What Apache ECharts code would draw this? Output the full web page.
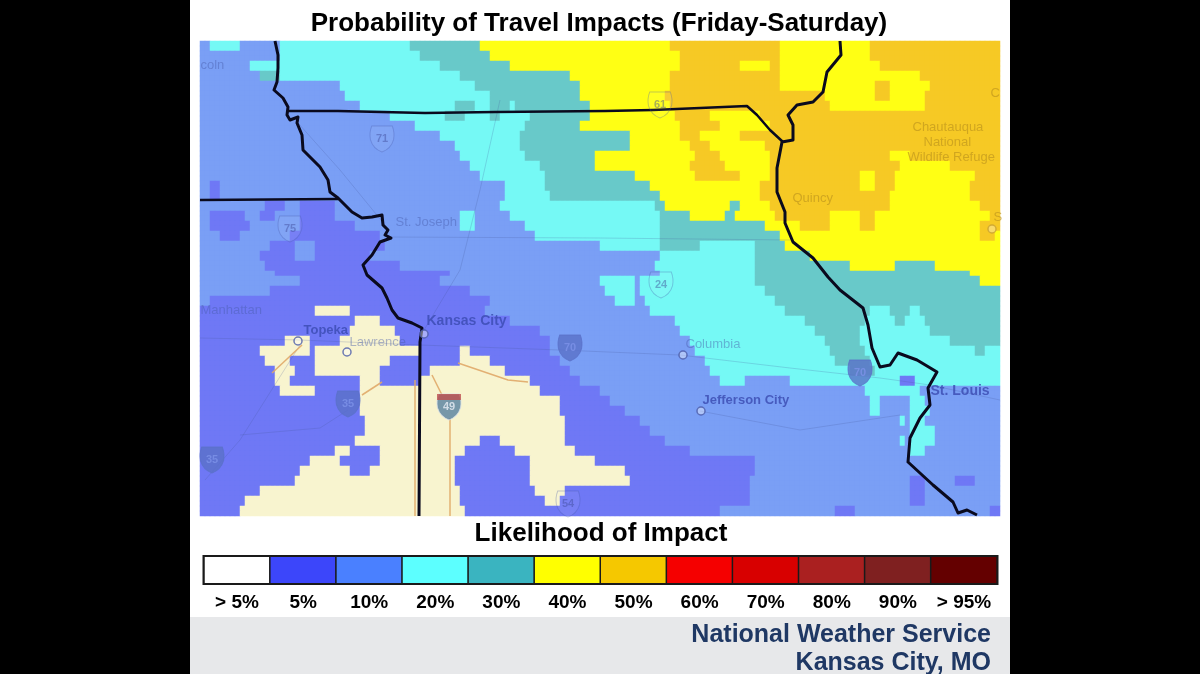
<!DOCTYPE html>
<html>
<head>
<meta charset="utf-8">
<script src="https://cdn.jsdelivr.net/npm/echarts@6/dist/echarts.min.js"></script>
<style>html,body{margin:0;background:#000}#main{width:1200px;height:674px}</style>
</head>
<body>
<div id="main"></div>
<script>
/* legend */
var legendLabels = ['> 5%','5%','10%','20%','30%','40%','50%','60%','70%','80%','90%','> 95%'];
var legendColors = ['#ffffff','#3c46fa','#4a80ff','#5cffff','#3ab4c0','#ffff00','#f5c800','#f50000','#d80000','#aa2020','#7f2020','#640000'];

/* probability class of each map row: letter + column where the run ends */
var classCodes = ['W','B','L','C','T','Y','O'];
var classColors = ['#f8f4cf','#6f78f5','#7a9ff5','#75f9f5','#68c9c9','#ffff14','#f6c925'];
var mapRows = [
'L1 C4 L8 C21 T28 Y47 O58 Y67 O80',
'L8 C22 T29 Y48 O58 Y67 O80',
'L4 L5 C24 T31 Y48 O54 Y57 O58 Y68 O80',
'L6 T8 C26 T37 Y47 O58 Y72 O80',
'L14 C27.5 T38 Y47 O58 Y67.5 O69 Y73 O80',
'L14.5 C29 T38 Y46.5 O62.5 Y67.5 O69 Y72.5 O80',
'L16 C25.5 T27.5 C29 T31 C31.5 T39 Y47 O63 Y72.5 O80',
'L19 C24.5 T26.5 C29 T30 C33 T39 Y47.5 O51 Y56 O80',
'L21.5 C32.5 T38 Y48 O52 Y57 O80',
'L24 C32 T43 Y48 O50 Y54 O80',
'L25.5 C32 T43 Y49 O51 Y56.5 O80',
'L26 C32.5 T39.5 Y49.5 O52 Y57 O69 Y71 O80',
'L27 C34 T39.5 Y49 O52.5 Y57 O70 Y75 O80',
'L28 C34.5 T43.5 Y49.5 O54 Y57 O66 Y67.5 O69.5 Y77.5 O80',
'L1 B2 L30.5 C34.5 T45 Y56 O66 Y67.5 O69.5 Y77 O80',
'L1 B2 L30.5 C35 T46 Y56 O69 Y77 O80',
'L6.5 B8.5 L10 B13.5 L30 C45.5 T46.5 Y53 T54 Y57 O69 Y78 O80',
'L1 B4.5 L6 B7.5 L10 B13.5 L26 C27.5 L31 C46 T49 Y52.5 T53.5 Y57.5 O63 Y66 O67.5 Y79 O80',
'L1 B5 L10 B15.5 L26 C27.5 L32.5 C46 T56.5 Y60 O63 Y66 O67.5 Y78 O80',
'L2 B4 L9 B18 L33.5 C46 T58 Y78 O79.5 Y80',
'L7 B9.5 L11.5 B18.5 L40 C46 T50 C55.5 T58.5 Y80',
'L6 B9.5 L11.5 B17 L46 C55.5 T61 Y80',
'L6.5 B20 L45.5 C55.5 T65 Y69.5 T73.5 Y80',
'L7.5 B25 L46 C55.5 T77 Y80',
'L10 B24 L40 C43.5 L44 C55.5 T78 Y80',
'L7 B27 L40.5 C43.5 L44 C56.5 T80',
'L1 B29 L41.5 C43.5 L44.5 C57.5 T80',
'B11.5 W15 B28.5 L45 C58.5 T67 C69 T71 C72 T80',
'B15.5 W18 B31 L47.5 C60.5 T66.5 C69.5 T70.5 C72.5 T80',
'B15 W19.5 B34 L48 C61.5 T66 C73 T80',
'B8.5 W11 B14 W20 B35 L49 C62.5 T66 C75 T80',
'B6 W11 B11.5 W22 B26 W27 B35 L49.5 C63 T66.5 C77.5 T78.5 C80',
'B6.5 W9 B11.5 W19 B26 W29 B36 L50.5 C63.5 T67 C80',
'B7.5 W9.5 B11.5 W18 B23 W30.5 B37 L51 C65 T67.5 C80',
'B7.5 W9 B11.5 B16 W18 B22 W33 B38 L52 C54.5 L59 C70 B71.5 C80',
'B8 W11.5 B16 W34 B40 L66.5 C72 L80',
'B16 W36 B41 L67 C68 L71 C72.5 L80',
'B16 W36 B42.5 L67 C68 L71 C73 L80',
'B16.5 W36.5 B44 L70 C70.5 L71 C72.5 L80',
'B16.5 W36.5 B45 L71 C73.5 L80',
'B15.5 W28 B30 W36.5 B46.5 L70 C70.5 L71 C73.5 L80',
'B13.5 W15 B18 W26.5 B31.5 W37.5 B49 L71 C72.5 L80',
'B11 W14 B18 W25.5 B33 W39.5 B55.5 L80',
'B10 W15 B17 W25.5 B33 W42.5 B55.5 L80',
'B9.5 W25.5 B33 W43 B55 L71 B72.5 L75.5 B77.5 L80',
'B6 W26 B33.5 W36.5 B55 L71 B72.5 L80',
'B4.5 W26 B34.5 W36 B55 L71 B72.5 L80',
'B4 W26.5 B52 L63.5 B65.5 L79 B80'
];

/* state lines and rivers, in picture pixels */
var missouriRiver = [[275,41],[278,55],[278,68],[277,82],[274,90],[283,98],[288,107],[287,115],[290,120],[298,117],[297,123],[302,135],[303,150],[310,157],[320,167],[328,180],[330,192],[338,198],[352,212],[362,218],[372,217],[382,215],[383,225],[388,230],[385,235],[391,238],[380,242],[372,255],[363,265],[367,275],[382,288],[387,298],[392,310],[398,318],[412,323],[422,328],[420,342],[419,516]];
var iowaLine = [[287,111],[338,111],[425,113],[495,112],[605,111],[653,110],[747,106],[757,115],[770,130],[783,142]];
var nebraskaLine = [[200,200],[338,199]];
var mississippiRiver = [[840,41],[841,55],[827,72],[823,92],[813,102],[797,105],[788,115],[793,125],[793,140],[782,142],[777,168],[777,192],[785,212],[785,223],[793,242],[813,258],[828,277],[840,290],[863,308],[868,325],[872,348],[880,367],[890,365],[898,353],[917,360],[937,372],[928,388],[930,405],[920,418],[910,438],[908,462],[933,485],[953,502],[958,513],[967,510],[977,515]];

/* faint roads */
var blueRoads = [
[[200,338],[300,340],[420,345],[560,350],[680,355],[790,368],[880,378],[930,385]],
[[388,237],[600,238],[790,240]],
[[298,123],[340,170],[385,225]],
[[500,100],[480,190],[460,270],[424,330]],
[[205,480],[240,440],[300,345]],
[[240,435],[320,428],[348,410]],
[[700,411],[800,430],[900,415]],
[[930,385],[1000,400]]
];
var orangeRoads = [
[[458,363],[508,380],[528,382]],
[[272,373],[302,345]],
[[362,395],[382,382]],
[[432,375],[442,395]],
[[450,418],[450,516]],
[[415,380],[415,516]]
];

/* place names: x, y, text */
var bigCities = [[426,321,'Kansas City'],[930,391,'St. Louis']];
var midCities = [[303,330,'Topeka'],[702,400,'Jefferson City']];
var paleCities = [[349,342,'Lawrence'],[685,344,'Columbia'],[395,222,'St. Joseph'],[200,65,'coln'],[200,310,'Manhattan']];
var orangeNames = [[792,198,'Quincy'],[912,127,'Chautauqua'],[923,142,'National'],[907,157,'Wildlife Refuge'],[993,217,'S'],[990,93,'C']];
var cityDots = [[298,341],[347,352],[424,334],[683,355],[701,411]];
var orangeDots = [[992,229]];
var routeShields = [[382,139,'71'],[290,229,'75'],[661,285,'24'],[568,504,'54'],[660,105,'61']];
var interstates = [[570,348,'70'],[348,404,'35'],[212,460,'35'],[860,373,'70']];
var tealInterstates = [[449,407,'49']];
var shieldTops = [[449,397]];

/* the picture's rows are 9.9px high, cells are 5x5 so they stay on whole pixels */
var CELL_ROWS = 95, CELL_COLS = 160;
var cellX = [], cellY = [], cellData = [];
for (var i = 0; i < CELL_COLS; i++) cellX.push(i);
for (var i = 0; i < CELL_ROWS; i++) cellY.push(i);
var decoded = mapRows.map(function (row) {
	var cells = [], from = 0;
	row.split(' ').forEach(function (run) {
		var code = classCodes.indexOf(run[0]), to = Math.round(+run.slice(1) * 2);
		for (var c = from; c < to; c++) cells[c] = code;
		from = Math.max(from, to);
	});
	return cells;
});
cellY.forEach(function (k) {
	var src = decoded[Math.min(47, Math.floor((k + 0.5) * 48 / CELL_ROWS))];
	cellX.forEach(function (c) { cellData.push([c, k, src[c]]); });
});
var legendData = legendLabels.map(function (l, i) { return [i, 0, i]; });

function lineSeries(pts, color, width, opacity) {
	return {
		type: 'line', xAxisIndex: 1, yAxisIndex: 1, data: pts, showSymbol: false, silent: true,
		lineStyle: { color: color, width: width, opacity: opacity, join: 'round' }, z: 5
	};
}
function nameSeries(pts, color, size, weight) {
	return {
		type: 'scatter', xAxisIndex: 1, yAxisIndex: 1, data: pts, symbolSize: 1, z: 7,
		itemStyle: { color: 'rgba(0,0,0,0)' },
		labelLayout: { hideOverlap: false },
		label: { show: true, position: 'right', distance: 0, formatter: function (p) { return p.value[2]; },
			color: color, fontSize: size, fontWeight: weight, fontFamily: 'Liberation Sans' }
	};
}
function shieldSeries(pts, fill, border, color) {
	return {
		type: 'scatter', xAxisIndex: 1, yAxisIndex: 1, data: pts, z: 6,
		symbol: 'path://M2 0H18Q20 6 19 12Q17 20 10 23Q3 20 1 12Q0 6 2 0Z', symbolSize: [24, 26],
		itemStyle: { color: fill, borderColor: border, borderWidth: 1 },
		label: { show: true, position: 'inside', formatter: function (p) { return p.value[2]; },
			color: color, fontSize: 11, fontWeight: 'bold', fontFamily: 'Liberation Sans' }
	};
}

var series = [
	{ type: 'heatmap', xAxisIndex: 0, yAxisIndex: 0, data: cellData, progressive: 0, silent: true, z: 2 },
	{ type: 'heatmap', xAxisIndex: 2, yAxisIndex: 2, data: legendData, silent: true, z: 2,
		itemStyle: { borderColor: '#1a1a1a', borderWidth: 1.5 } }
];
blueRoads.forEach(function (r) { series.push(lineSeries(r, '#44559a', 1, 0.22)); });
orangeRoads.forEach(function (r) { series.push(lineSeries(r, '#e0a868', 1.5, 0.9)); });
series.push(shieldSeries(routeShields, 'rgba(255,255,255,0.08)', 'rgba(70,90,170,0.4)', 'rgba(60,70,150,0.55)'));
series.push(shieldSeries(interstates, '#5a70c8', '#5a70c8', '#7d92e8'));
series.push(shieldSeries(tealInterstates, '#55809f', '#d8e0e8', '#e8eef5'));
series.push({
	type: 'scatter', xAxisIndex: 1, yAxisIndex: 1, data: shieldTops, z: 7, symbol: 'rect', symbolSize: [24, 6],
	itemStyle: { color: '#c0504d' }
});
series.push({
	type: 'scatter', xAxisIndex: 1, yAxisIndex: 1, data: cityDots, symbolSize: 8, z: 6,
	itemStyle: { color: 'rgba(255,255,255,0.5)', borderColor: '#4a5aa8', borderWidth: 1.5 }
});
series.push({
	type: 'scatter', xAxisIndex: 1, yAxisIndex: 1, data: orangeDots, symbolSize: 8, z: 6,
	itemStyle: { color: 'rgba(255,255,255,0.4)', borderColor: '#c8a030', borderWidth: 1.5 }
});
series.push(nameSeries(bigCities, '#3a4ab0', 14, 'bold'));
series.push(nameSeries(midCities, '#3a4ab0', 13, 'bold'));
series.push(nameSeries(paleCities, 'rgba(70,90,170,0.55)', 13, 'normal'));
series.push(nameSeries(orangeNames, 'rgba(190,150,30,0.85)', 13, 'normal'));
series.push(lineSeries(missouriRiver, '#0a0a1e', 3, 1));
series.push(lineSeries(iowaLine, '#0a0a1e', 2.5, 1));
series.push(lineSeries(nebraskaLine, '#0a0a1e', 2.5, 1));
series.push(lineSeries(mississippiRiver, '#0a0a1e', 3, 1));

function titleText(text, size, color) {
	return { text: text, padding: 0, textStyle: { fontFamily: 'Liberation Sans', fontWeight: 'bold', color: color, fontSize: size } };
}
function place(t, pos) { return Object.assign(t, pos); }

var option = {
	animation: false,
	backgroundColor: '#000',
	graphic: [
		{ type: 'rect', shape: { x: 190, y: 0, width: 820, height: 674 }, style: { fill: '#fff' }, z: 0 },
		{ type: 'rect', shape: { x: 190, y: 617, width: 820, height: 57 }, style: { fill: '#e7e8ea' }, z: 0 },
		{ type: 'rect', shape: { x: 203.5, y: 556, width: 794, height: 28 }, style: { fill: 'none', stroke: '#1a1a1a', lineWidth: 2 }, z: 10 }
	],
	title: [
		place(titleText('Probability of Travel Impacts (Friday-Saturday)', 26, '#000'), { left: 599, top: 11, textAlign: 'center' }),
		place(titleText('Likelihood of Impact', 26, '#000'), { left: 601, top: 521, textAlign: 'center' }),
		place(titleText('National Weather Service', 25, '#1f3864'), { right: 209, top: 623 }),
		place(titleText('Kansas City, MO', 25, '#1f3864'), { right: 209, top: 651 })
	],
	grid: [
		{ left: 200, top: 41, width: 800, height: 475 },
		{ left: 200, top: 41, width: 800, height: 475 },
		{ left: 204, top: 556, width: 793, height: 28 }
	],
	xAxis: [
		{ type: 'category', gridIndex: 0, data: cellX, show: false },
		{ type: 'value', gridIndex: 1, min: 200, max: 1000, show: false },
		{ type: 'category', gridIndex: 2, data: legendLabels,
			axisLine: { show: false }, axisTick: { show: false },
			axisLabel: { interval: 0, margin: 9, color: '#000', fontSize: 19, fontWeight: 'bold', fontFamily: 'Liberation Sans' } }
	],
	yAxis: [
		{ type: 'category', gridIndex: 0, data: cellY, inverse: true, show: false },
		{ type: 'value', gridIndex: 1, min: 41, max: 516, inverse: true, show: false },
		{ type: 'category', gridIndex: 2, data: ['bar'], show: false }
	],
	visualMap: [
		{ type: 'piecewise', show: false, seriesIndex: 0, dimension: 2,
			pieces: classColors.map(function (c, i) { return { value: i, color: c }; }) },
		{ type: 'piecewise', show: false, seriesIndex: 1, dimension: 2,
			pieces: legendColors.map(function (c, i) { return { value: i, color: c }; }) }
	],
	series: series
};

var chart = echarts.init(document.getElementById('main'));
chart.setOption(option);
</script>
</body>
</html>
